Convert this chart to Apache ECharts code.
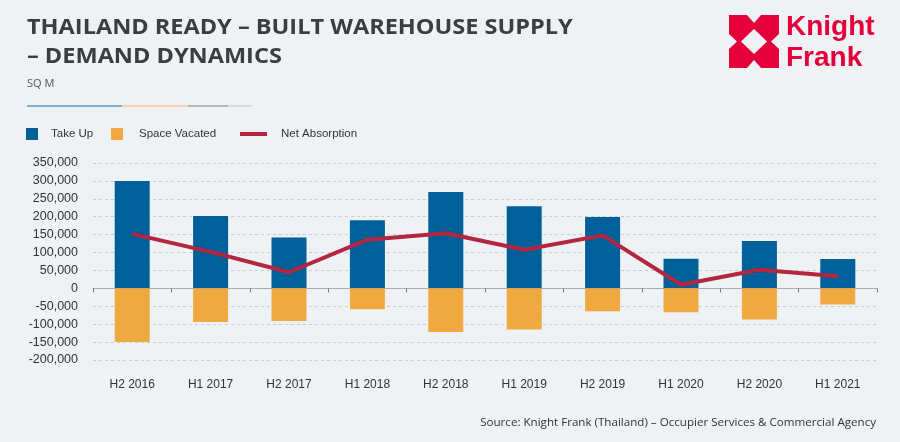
<!DOCTYPE html>
<html><head><meta charset="utf-8">
<script src="https://cdn.jsdelivr.net/npm/echarts@6/dist/echarts.min.js"></script>
<style>html,body{margin:0;padding:0;background:#eef2f4;}#c{width:900px;height:442px;}</style>
</head><body><div id="c"></div>
<script>
const categories = ['H2 2016','H1 2017','H2 2017','H1 2018','H2 2018','H1 2019','H2 2019','H1 2020','H2 2020','H1 2021'];
const takeUp = [300000, 202000, 142000, 190000, 269000, 229000, 199000, 83000, 132000, 82000];
const spaceVacated = [-150000, -94000, -91000, -58000, -122000, -115000, -64000, -67000, -87000, -45000];
const netAbsorption = [152000, 102000, 45000, 136000, 154000, 108000, 148000, 10000, 52000, 34000];
const yTicks = {min: -200000, max: 350000, interval: 50000};

const chart = echarts.init(document.getElementById('c'), null, {renderer: 'canvas'});
const labelFont = "'Liberation Sans', Arial, sans-serif";
const red = '#e4003b';
const bg = '#eef2f4';
chart.setOption({
  backgroundColor: bg,
  animation: false,
  grid: {left: 93, right: 23, top: 163, bottom: 82},
  legend: [
    {left: 26, top: 128, padding: 0, itemWidth: 12, itemHeight: 12, icon: 'rect', data: ['Take Up'],
     textStyle: {fontFamily: labelFont, fontSize: 11.5, color: '#333', padding: [0,0,0,8]}},
    {left: 111, top: 128, padding: 0, itemWidth: 12, itemHeight: 12, icon: 'rect', data: ['Space Vacated'],
     textStyle: {fontFamily: labelFont, fontSize: 11.5, color: '#333', padding: [0,0,0,11]}},
    {left: 240, top: 128, padding: 0, itemWidth: 27, itemHeight: 4, icon: 'rect', data: ['Net Absorption'],
     textStyle: {fontFamily: labelFont, fontSize: 11.5, color: '#333', padding: [0,0,0,9]}}
  ],
  xAxis: [
    {type: 'category', data: categories, position: 'bottom',
     axisLine: {show: false, onZero: false}, axisTick: {show: false},
     axisLabel: {fontFamily: "'Liberation Sans Narrow', 'Liberation Sans', Arial, sans-serif", fontSize: 12, color: '#333', margin: 19}},
    {type: 'category', data: categories, position: 'bottom',
     axisLine: {show: true, onZero: true, lineStyle: {color: '#a8abad', width: 1}},
     axisTick: {show: true, length: 4, lineStyle: {color: '#777'}}, axisLabel: {show: false}}
  ],
  yAxis: {type: 'value', min: yTicks.min, max: yTicks.max, interval: yTicks.interval,
    axisLine: {show: false}, axisTick: {show: false},
    splitLine: {lineStyle: {color: '#c9cdd0', type: [3, 3], width: 1}},
    axisLabel: {fontFamily: labelFont, fontSize: 12.5, color: '#333', margin: 15,
      formatter: v => v.toLocaleString('en-US')}},
  series: [
    {name: 'Take Up', type: 'bar', stack: 's', barWidth: 35, data: takeUp, itemStyle: {color: '#00609a'}},
    {name: 'Space Vacated', type: 'bar', stack: 's', barWidth: 35, data: spaceVacated, itemStyle: {color: '#f0a840'}},
    {name: 'Net Absorption', type: 'line', data: netAbsorption, showSymbol: false, symbol: 'none',
     lineStyle: {color: '#b4253f', width: 4}, itemStyle: {color: '#b4253f'}, z: 5}
  ],
  graphic: [
    {type: 'text', x: 27, y: 14, scaleX: 1.12, style: {text: 'THAILAND READY – BUILT WAREHOUSE SUPPLY\n– DEMAND DYNAMICS',
      font: "bold 21px 'Open Sans', sans-serif", fill: '#3b3d3f', lineHeight: 29}},
    {type: 'text', left: 27, top: 78, style: {text: 'SQ M', font: "11px 'Open Sans', sans-serif", fill: '#555'}},
    {type: 'rect', shape: {x: 27, y: 105, width: 95, height: 2}, style: {fill: '#7fb2d2'}},
    {type: 'rect', shape: {x: 122, y: 105, width: 66, height: 2}, style: {fill: '#f3d3b0'}},
    {type: 'rect', shape: {x: 188, y: 105, width: 40, height: 2}, style: {fill: '#b5b8ba'}},
    {type: 'rect', shape: {x: 228, y: 105, width: 24, height: 2}, style: {fill: '#d8dbdd'}},
    {type: 'text', right: 24, top: 417, style: {text: 'Source: Knight Frank (Thailand) – Occupier Services & Commercial Agency',
      font: "11.6px 'Open Sans', sans-serif", fill: '#333'}},
    // logo
    {type: 'rect', shape: {x: 729, y: 15, width: 50, height: 53}, style: {fill: red}},
    {type: 'polygon', shape: {points: [[754,29],[767,41.5],[754,54],[741,41.5]]}, style: {fill: bg}},
    {type: 'polygon', shape: {points: [[747,15],[761,15],[754,23]]}, style: {fill: bg}},
    {type: 'polygon', shape: {points: [[747,68],[761,68],[754,60]]}, style: {fill: bg}},
    {type: 'polygon', shape: {points: [[729,34],[729,49],[737,41.5]]}, style: {fill: bg}},
    {type: 'polygon', shape: {points: [[779,34],[779,49],[771,41.5]]}, style: {fill: bg}},
    {type: 'text', left: 786, top: 12, style: {text: 'Knight\nFrank', font: "bold 28px 'Liberation Sans', Arial, sans-serif", fill: red, lineHeight: 31}}
  ]
});
</script></body></html>
